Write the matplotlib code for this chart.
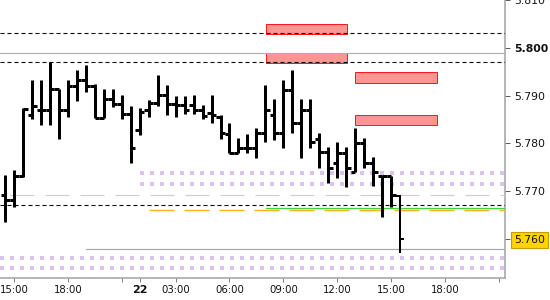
import numpy as np
import matplotlib
matplotlib.use("Agg")
import matplotlib.pyplot as plt
from matplotlib.patches import Rectangle

# ---- data (30-minute OHLC bars) ----
opens  = [5.7692, 5.7682, 5.7732, 5.7860, 5.7870, 5.7870, 5.7914, 5.7870, 5.7920, 5.7933,
          5.7921, 5.7853, 5.7893, 5.7883, 5.7862, 5.7828, 5.7870, 5.7885, 5.7902, 5.7883,
          5.7881, 5.7881, 5.7870, 5.7864, 5.7855, 5.7820, 5.7780, 5.7791, 5.7791, 5.7821,
          5.7860, 5.7822, 5.7912, 5.7842, 5.7870, 5.7809, 5.7782, 5.7759, 5.7781, 5.7741,
          5.7802, 5.7760, 5.7732, 5.7732, 5.7690]
highs  = [5.7734, 5.7745, 5.7874, 5.7933, 5.7933, 5.7971, 5.7914, 5.7933, 5.7954, 5.7964,
          5.7925, 5.7914, 5.7914, 5.7902, 5.7879, 5.7874, 5.7891, 5.7943, 5.7923, 5.7899,
          5.7899, 5.7902, 5.7881, 5.7902, 5.7860, 5.7843, 5.7812, 5.7820, 5.7832, 5.7923,
          5.7893, 5.7933, 5.7954, 5.7893, 5.7893, 5.7822, 5.7793, 5.7804, 5.7792, 5.7832,
          5.7811, 5.7771, 5.7732, 5.7732, 5.7692]
lows   = [5.7636, 5.7668, 5.7730, 5.7851, 5.7839, 5.7839, 5.7809, 5.7856, 5.7888, 5.7908,
          5.7853, 5.7853, 5.7877, 5.7851, 5.7759, 5.7818, 5.7855, 5.7879, 5.7860, 5.7855,
          5.7862, 5.7862, 5.7851, 5.7843, 5.7809, 5.7780, 5.7780, 5.7780, 5.7769, 5.7803,
          5.7807, 5.7791, 5.7822, 5.7769, 5.7790, 5.7748, 5.7718, 5.7727, 5.7708, 5.7740,
          5.7748, 5.7710, 5.7647, 5.7668, 5.7570]
closes = [5.7682, 5.7732, 5.7872, 5.7879, 5.7870, 5.7914, 5.7870, 5.7920, 5.7933, 5.7921,
          5.7853, 5.7893, 5.7883, 5.7862, 5.7791, 5.7866, 5.7885, 5.7902, 5.7883, 5.7881,
          5.7870, 5.7870, 5.7858, 5.7860, 5.7822, 5.7780, 5.7791, 5.7791, 5.7821, 5.7870,
          5.7822, 5.7912, 5.7842, 5.7870, 5.7803, 5.7782, 5.7749, 5.7781, 5.7749, 5.7802,
          5.7760, 5.7741, 5.7732, 5.7692, 5.7601]

x_tick_pos    = [1, 7, 13, 15, 19, 25, 31, 37, 43, 49, 55]
x_tick_labels = ["15:00", "18:00", "", "22", "03:00", "06:00", "09:00", "12:00", "15:00", "18:00", ""]
y_ticks       = [5.760, 5.770, 5.780, 5.790, 5.800, 5.810]
y_tick_labels = ["5.760", "5.770", "5.780", "5.790", "5.800", "5.810"]

black_dashed_levels = [5.8031, 5.7970, 5.7671]
grey_full_level = 5.7989
grey_low_level = 5.7578
grey_low_start = 9
light_dashed_level = 5.7692
light_dashed_start = 0.55
orange_level = 5.7660
orange_start = 16
green_level = 5.7664
green_start = 29.07
purple_upper_levels = [5.7739, 5.7715]
purple_upper_start = 15
purple_lower_levels = [5.7560, 5.7540]
zone_x0 = [29.1, 29.1, 39.0, 39.0]
zone_x1 = [38.1, 38.1, 48.1, 48.1]
zone_lo = [5.80293, 5.79692, 5.79273, 5.78394]
zone_hi = [5.80496, 5.79889, 5.79504, 5.78597]
current_price = 5.760

# ---- figure ----
plt.rcParams["font.family"] = ["DejaVu Sans"]
plt.rcParams["lines.scale_dashes"] = False
DPI = 100
PX = 72.0 / DPI  # points per pixel

fig = plt.figure(figsize=(5.5, 3.0), dpi=DPI)
ax = fig.add_axes([0, 22 / 300, 505 / 550, 278 / 300])
XMIN, XMAX = -0.57, 55.7
ax.set_xlim(XMIN, XMAX)
ax.set_ylim(5.75183, 5.81005)

# zones
for x0, x1, lo, hi in zip(zone_x0, zone_x1, zone_lo, zone_hi):
    ax.add_patch(Rectangle((x0, lo), x1 - x0, hi - lo, facecolor="#ff9494",
                           edgecolor="#ff1a1a", lw=1 * PX, zorder=1))

# purple dotted bands
for lv in purple_upper_levels:
    ax.plot([purple_upper_start, XMAX], [lv, lv], color="#dcc2ef", lw=4 * PX,
            dashes=(4 * PX, 6 * PX), solid_capstyle="butt", dash_capstyle="butt", zorder=2)
for lv in purple_lower_levels:
    ax.plot([XMIN, XMAX], [lv, lv], color="#dcc2ef", lw=4 * PX,
            dashes=(4 * PX, 6 * PX), dash_capstyle="butt", zorder=2)

# grey solid lines
ax.plot([XMIN, XMAX], [grey_full_level] * 2, color="#b0b0b0", lw=1.2 * PX, zorder=3)
ax.plot([grey_low_start, XMAX], [grey_low_level] * 2, color="#a8a8a8", lw=1.2 * PX, zorder=3)

# light grey long dashes
ax.plot([light_dashed_start, XMAX], [light_dashed_level] * 2, color="#cfcfcf", lw=1.2 * PX,
        dashes=(24 * PX, 11 * PX), dash_capstyle="butt", zorder=3)

# orange dashes
ax.plot([orange_start, XMAX], [orange_level] * 2, color="#ffb31a", lw=1.4 * PX,
        dashes=(25 * PX, 10 * PX), dash_capstyle="butt", zorder=3)

# green line
ax.plot([green_start, XMAX], [green_level] * 2, color="#3fd13f", lw=1.3 * PX, zorder=3)

# black dashed levels
for lv in black_dashed_levels:
    ax.plot([XMIN, XMAX], [lv, lv], color="black", lw=1.1 * PX,
            dashes=(4 * PX, 3 * PX), dash_capstyle="butt", zorder=4)

# OHLC bars
xs = np.arange(len(opens))
n = len(opens)
lw_main = 3 * PX
lw_last = 2 * PX
widths = [lw_main] * (n - 1) + [lw_last]
ax.vlines(xs, lows, highs, colors="black", linewidths=widths, capstyle="butt", zorder=5)
ax.hlines(opens, xs - 0.5, xs, colors="black", linewidths=widths, capstyle="butt", zorder=5)
ax.hlines(closes, xs, xs + 0.5, colors="black", linewidths=widths, capstyle="butt", zorder=5)

# spines
for s in ["top", "left"]:
    ax.spines[s].set_visible(False)
for s in ["bottom", "right"]:
    ax.spines[s].set_color("#a0a0a0")
    ax.spines[s].set_linewidth(1.5 * PX)

# x ticks
ax.set_xticks(x_tick_pos)
ax.set_xticklabels(x_tick_labels, fontsize=7.3, color="#111111")
ax.tick_params(axis="x", length=4 * PX * 1.0, width=1 * PX, color="#808080", pad=2.5)
for lbl in ax.get_xticklabels():
    if lbl.get_text() == "22":
        lbl.set_fontweight("bold")
        lbl.set_fontsize(8)

# y ticks on right
ax.yaxis.tick_right()
ax.set_yticks(y_ticks)
ax.set_yticklabels(y_tick_labels, fontsize=7.8, color="#111111")
ax.tick_params(axis="y", length=5 * PX, width=1 * PX, color="#606060", pad=3)
for lbl in ax.get_yticklabels():
    if lbl.get_text() == "5.800":
        lbl.set_fontweight("bold")
    if lbl.get_text() == "5.760":
        lbl.set_bbox(dict(boxstyle="square,pad=0.28", facecolor="#ffd400",
                          edgecolor="#c89a00", linewidth=0.8))

fig.savefig("out.png", dpi=DPI, facecolor="white")
